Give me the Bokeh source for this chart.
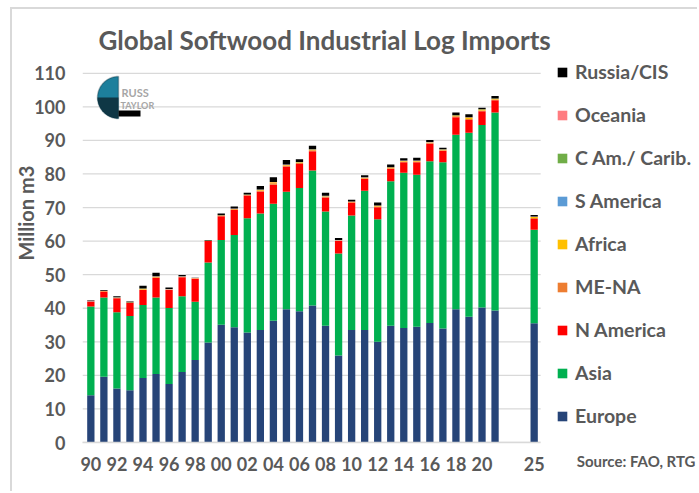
import math
from bokeh.plotting import figure
from bokeh.models import (ColumnDataSource, Range1d, Legend, LegendItem, Title, Label,
                          FixedTicker, PolyAnnotation, BoxAnnotation)
from bokeh.embed import file_html
from bokeh.resources import INLINE

# ---------------- data ----------------
years = [str(y) for y in range(1990, 2022)] + ["2025"]
gap_slots = ["2022", "2023"]

europe = [14.1, 19.6, 16.1, 15.6, 19.2, 20.4, 17.4, 21.0, 24.6, 29.8, 35.1, 34.3, 32.8, 33.5,
          36.3, 39.7, 39.1, 40.8, 34.8, 25.9, 33.5, 33.5, 30.0, 34.8, 34.1, 34.5, 35.6, 34.0,
          39.7, 37.5, 40.2, 39.3, 35.5]
asia = [26.4, 23.6, 22.7, 22.1, 21.8, 22.8, 22.7, 22.6, 17.3, 23.8, 25.2, 27.5, 34.0, 34.7,
        34.8, 35.0, 36.7, 40.2, 34.0, 30.4, 34.1, 41.5, 36.5, 43.0, 46.3, 45.3, 48.2, 49.5,
        52.0, 54.8, 54.4, 59.0, 27.9]
n_america = [1.5, 1.8, 4.2, 3.9, 4.4, 5.8, 5.3, 5.6, 6.9, 6.4, 7.1, 7.5, 6.8, 6.6, 5.7, 7.5,
             7.2, 5.8, 4.2, 3.7, 3.9, 3.5, 3.6, 3.7, 3.1, 3.7, 5.2, 3.4, 5.2, 3.8, 4.1, 3.7, 3.2]
me_na = [0.05, 0.05, 0.1, 0.05, 0.2, 0.2, 0.1, 0.1, 0.05, 0.05, 0.1, 0.2, 0.1, 0.3, 0.4, 0.3,
         0.3, 0.3, 0.2, 0.1, 0.1, 0.2, 0.2, 0.2, 0.2, 0.2, 0.2, 0.2, 0.3, 0.3, 0.2, 0.2, 0.3]
africa = [0.05, 0.05, 0.1, 0.05, 0.2, 0.2, 0.1, 0.1, 0.05, 0.05, 0.1, 0.1, 0.1, 0.2, 0.3, 0.2,
          0.2, 0.2, 0.2, 0.1, 0.1, 0.2, 0.2, 0.2, 0.2, 0.2, 0.2, 0.2, 0.2, 0.4, 0.3, 0.2, 0.3]
s_america = [0.04] * 33
c_am_carib = [0.02] * 33
oceania = [0.04] * 33
russia_cis = [0.2, 0.2, 0.3, 0.2, 0.8, 1.1, 0.5, 0.4, 0.1, 0.1, 0.5, 0.6, 0.5, 1.0, 1.4, 1.4,
              0.8, 1.0, 0.9, 0.6, 0.5, 0.6, 0.9, 0.8, 0.7, 0.8, 0.6, 0.4, 0.8, 0.9, 0.4, 0.7, 0.5]

series_keys = ["europe", "asia", "n_america", "me_na", "africa", "s_america", "c_am",
               "oceania", "russia"]
series_labels = ["Europe", "Asia", "N America", "ME-NA", "Africa", "S America",
                 "C Am./ Carib.", "Oceania", "Russia/CIS"]
series_colors = ["#264478", "#00B050", "#FF0000", "#ED7D31", "#FFC000", "#5B9BD5",
                 "#70AD47", "#FF7C80", "#000000"]
y_ticks = [0, 10, 20, 30, 40, 50, 60, 70, 80, 90, 100, 110]
title_text = "Global Softwood Industrial Log Imports"
y_title = "Million m3"
source_note = "Source: FAO, RTG"

# ---------------- chart ----------------
slots = years[:-1] + gap_slots + years[-1:]          # category order along the axis
xpos = [slots.index(y) for y in years]
x_lo, x_end_bars = -0.64, len(slots) - 0.5

source = ColumnDataSource(dict(
    x=xpos, europe=europe, asia=asia, n_america=n_america, me_na=me_na, africa=africa,
    s_america=s_america, c_am=c_am_carib, oceania=oceania, russia=russia_cis))

FONT = "Lato"
GREY = "#595959"

# frame spans to the right edge so the legend can live inside it
p = figure(x_range=Range1d(x_lo, 46.68), y_range=Range1d(0, 114.7),
           width=687, height=484, output_backend="svg", toolbar_location=None,
           min_border_left=70, min_border_right=0, min_border_top=48,
           min_border_bottom=51,
           styles={"margin-left": "10px", "margin-top": "7px",
                   "border-left": "2px solid #d9d9d9", "border-top": "2px solid #d9d9d9"})
p.outline_line_color = None
p.background_fill_color = "white"
p.border_fill_color = "white"

# horizontal gridlines limited to the bar area
p.xgrid.grid_line_color = None
p.ygrid.grid_line_color = None
p.segment(x0=[x_lo] * len(y_ticks), x1=[x_end_bars] * len(y_ticks), y0=y_ticks, y1=y_ticks,
          line_color="#d9d9d9", line_width=1.3)

renderers = p.vbar_stack(series_keys, x="x", width=0.56, color=series_colors,
                         line_color=None, source=source)

p.yaxis.ticker = FixedTicker(ticks=y_ticks)
p.yaxis.axis_line_color = None
p.yaxis.major_tick_line_color = None
p.yaxis.minor_tick_line_color = None
p.yaxis.major_tick_out = 0
p.yaxis.major_tick_in = 0
p.yaxis.axis_label_standoff = 0
p.yaxis.major_label_standoff = 17
p.yaxis.major_label_text_font = FONT
p.yaxis.major_label_text_font_style = "bold"
p.yaxis.major_label_text_font_size = "18px"
p.yaxis.major_label_text_color = GREY

tick_pos = [slots.index(y) for y in years if int(y) % 2 == 0 or y == years[-1]]
p.xaxis.ticker = FixedTicker(ticks=tick_pos)
p.xaxis.major_label_overrides = {i: slots[i][2:] for i in tick_pos}
p.xaxis.bounds = (x_lo, x_end_bars)
p.xaxis.axis_line_color = "#d9d9d9"
p.xaxis.axis_line_width = 1.3
p.xaxis.major_tick_line_color = None
p.xaxis.minor_tick_line_color = None
p.xaxis.major_tick_out = 0
p.xaxis.major_tick_in = 0
p.xaxis.major_label_standoff = 14
p.xaxis.major_label_text_font = FONT
p.xaxis.major_label_text_font_style = "bold"
p.xaxis.major_label_text_font_size = "18px"
p.xaxis.major_label_text_color = GREY

# titles and notes
p.add_layout(Title(text=title_text, align="left", offset=16, standoff=4,
                   text_font=FONT, text_font_style="bold", text_font_size="26px",
                   text_color=GREY), "above")
p.add_layout(Title(text=y_title, align="left", offset=182, standoff=-12,
                   text_font=FONT, text_font_style="bold", text_font_size="20px",
                   text_color=GREY), "left")
p.add_layout(Title(text=source_note, align="right", offset=4, standoff=-44,
                   vertical_align="top", text_font=FONT, text_font_style="bold",
                   text_font_size="15px", text_color=GREY), "below")

# small company logo (decoration, screen units relative to the frame)
cx, cy, r = 36, 345, 21
angles = [math.pi / 2 + math.pi * k / 40 for k in range(41)]
p.add_layout(PolyAnnotation(xs=[cx + r * math.cos(a) for a in angles],
                            ys=[cy + r * math.sin(a) for a in angles],
                            xs_units="screen", ys_units="screen",
                            fill_color="#1d7f9c", fill_alpha=1, line_color="#0b2430",
                            line_width=1.5))
angles2 = [math.pi + math.pi / 2 * k / 20 for k in range(21)]
p.add_layout(PolyAnnotation(xs=[cx] + [cx + r * math.cos(a) for a in angles2],
                            ys=[cy] + [cy + r * math.sin(a) for a in angles2],
                            xs_units="screen", ys_units="screen",
                            fill_color="#0d2a36", fill_alpha=0.85, line_color=None))
p.add_layout(Label(x=39, y=350, x_units="screen", y_units="screen", text="RUSS",
                   text_font=FONT, text_font_style="bold", text_font_size="11px",
                   text_color="#a6a6a6", text_baseline="middle"))
p.add_layout(Label(x=38, y=337, x_units="screen", y_units="screen", text="TAYLOR",
                   text_font=FONT, text_font_style="bold", text_font_size="9px",
                   text_color="#a6a6a6", text_baseline="middle"))
p.add_layout(BoxAnnotation(left=36, right=58, bottom=326, top=332, left_units="screen",
                           right_units="screen", bottom_units="screen",
                           top_units="screen", fill_color="black", fill_alpha=1,
                           line_color=None))

# legend inside the (widened) frame, to the right of the bars
items = [LegendItem(label=lab, renderers=[r])
         for lab, r in zip(series_labels, renderers)][::-1]
legend = Legend(items=items, location=(474, 15), padding=0, margin=0, spacing=20,
                glyph_width=12, glyph_height=12, label_height=23, label_standoff=7,
                border_line_color=None, background_fill_alpha=0,
                label_text_font=FONT, label_text_font_style="bold",
                label_text_font_size="19.5px", label_text_color=GREY)
p.add_layout(legend)

open("out.html", "w").write(file_html(p, INLINE))
